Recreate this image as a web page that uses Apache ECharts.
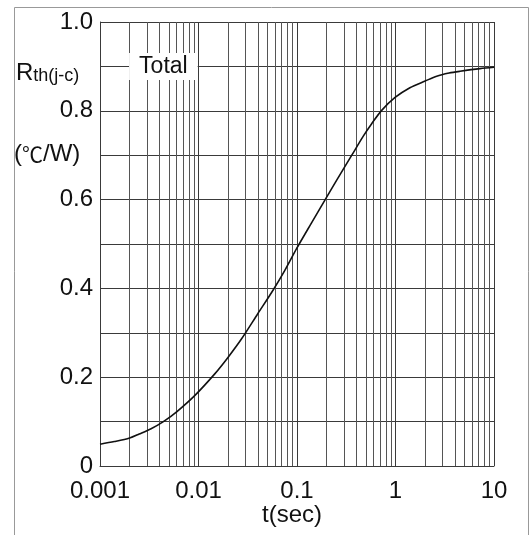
<!DOCTYPE html>
<html>
<head>
<meta charset="utf-8">
<script src="https://cdn.jsdelivr.net/npm/echarts@6/dist/echarts.min.js"></script>
<style>
  html, body { margin: 0; padding: 0; background: #fff; }
  #main { width: 530px; height: 535px; }
</style>
</head>
<body>
<div id="main"></div>
<script>
// time (sec) and thermal resistance
var tSec = [0.001, 0.0014, 0.002, 0.0025, 0.0033, 0.0044, 0.006, 0.0092, 0.0147, 0.02,
            0.0275, 0.04, 0.0575, 0.075, 0.0993, 0.14, 0.192, 0.253, 0.36, 0.471,
            0.573, 0.724, 0.99, 1.4, 2.0, 2.62, 3.5, 4.52, 7.2, 10];
var rth = [0.049, 0.055, 0.063, 0.072, 0.084, 0.100, 0.122, 0.159, 0.208, 0.245,
           0.287, 0.343, 0.397, 0.440, 0.490, 0.547, 0.599, 0.644, 0.700, 0.743,
           0.771, 0.801, 0.830, 0.852, 0.867, 0.878, 0.885, 0.889, 0.895, 0.898];
var xTickLabels = ['0.001', '0.01', '0.1', '1', '10'];
var yTickLabels = ['0', '', '0.2', '', '0.4', '', '0.6', '', '0.8', '', '1.0'];
var minorMult = [2, 3, 4, 5, 6, 7, 8, 9];
var decades = [0.001, 0.01, 0.1, 1];

var font = 'Liberation Sans, Arial, sans-serif';
var gridColor = '#3a3a3a';

var curve = [];
for (var i = 0; i < tSec.length; i++) curve.push([tSec[i], rth[i]]);

// vertical log grid lines at 2..9 of each decade
var minorLines = [];
decades.forEach(function (d) {
  minorMult.forEach(function (m) {
    var x = +(d * m).toPrecision(3);
    minorLines.push([{ coord: [x, 0] }, { coord: [x, 1] }]);
  });
});

var option = {
  animation: false,
  grid: { left: 100, top: 22, right: 36, bottom: 69 },
  xAxis: {
    type: 'log', logBase: 10, min: 0.001, max: 10,
    axisLine: { show: true, lineStyle: { color: gridColor, width: 1 } },
    axisTick: { show: false },
    axisLabel: {
      margin: 13, color: '#111', fontFamily: font, fontSize: 24,
      formatter: function (v, idx) { return xTickLabels[idx]; }
    },
    splitLine: { show: true, lineStyle: { color: gridColor, width: 1 } }
  },
  yAxis: {
    type: 'value', min: 0, max: 1, interval: 0.1,
    axisLine: { show: true, lineStyle: { color: gridColor, width: 1 } },
    axisTick: { show: false },
    axisLabel: {
      margin: 7, color: '#111', fontFamily: font, fontSize: 24,
      formatter: function (v, idx) { return yTickLabels[idx]; }
    },
    splitLine: { show: true, lineStyle: { color: gridColor, width: 1 } }
  },
  series: [{
    type: 'line',
    data: curve,
    smooth: 0.3,
    symbol: 'none',
    lineStyle: { color: '#111', width: 1.6 },
    markLine: {
      silent: true, symbol: 'none', label: { show: false },
      lineStyle: { color: '#555', width: 1, type: 'solid' },
      data: minorLines
    },
    markPoint: {
      silent: true,
      symbol: 'rect', symbolSize: 0,
      data: [{ coord: [0.0044, 0.9] }],
      label: {
        show: true, position: 'inside', formatter: 'Total',
        fontFamily: font, fontSize: 23, color: '#111',
        backgroundColor: '#fff', padding: [2, 10, 2, 10]
      }
    },
    z: 5
  }],
  graphic: [
    { type: 'rect', shape: { x: 14.5, y: 7.5, width: 514, height: 540 },
      style: { fill: 'none', stroke: '#999', lineWidth: 1 }, silent: true },
    { type: 'text', left: 16, top: 61, silent: true,
      style: {
        text: '{a|R}{b|th(j-c)}',
        rich: {
          a: { fontFamily: font, fontSize: 24, fill: '#111', verticalAlign: 'bottom' },
          b: { fontFamily: font, fontSize: 18, fill: '#111', verticalAlign: 'bottom', padding: [6, 0, 0, 0] }
        }
      } },
    { type: 'text', left: 14, top: 142, silent: true,
      style: {
        text: '{p|(}{c|\u2103}{p|/W)}',
        rich: {
          p: { fontFamily: font, fontSize: 24, fill: '#111' },
          c: { fontFamily: 'Noto Sans CJK SC, DejaVu Sans, sans-serif', fontSize: 21, fill: '#111' }
        }
      } },
    { type: 'text', left: 262, top: 503, silent: true,
      style: { text: 't(sec)', fontFamily: font, fontSize: 24, fill: '#111' } }
  ]
};

var myChart = echarts.init(document.getElementById('main'));
myChart.setOption(option, true);
</script>
</body>
</html>
